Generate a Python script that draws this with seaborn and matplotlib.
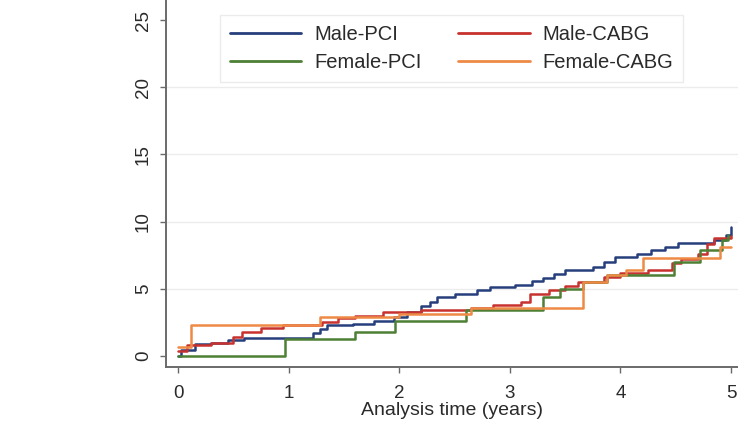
import matplotlib
matplotlib.use("Agg")
import matplotlib.pyplot as plt
import pandas as pd
import seaborn as sns

# Cumulative incidence (%) by group, step points (time in years, value)
male_pci_t = [0, 0.03, 0.15, 0.3, 0.45, 0.6, 1.22, 1.28, 1.35, 1.58, 1.77, 1.95, 2.07, 2.2,
              2.28, 2.34, 2.5, 2.7, 2.82, 3.05, 3.2, 3.3, 3.4, 3.5, 3.75, 3.85, 3.95, 4.15,
              4.28, 4.4, 4.52, 4.85, 4.95, 5.0]
male_pci_v = [0, 0.45, 0.9, 1.0, 1.2, 1.35, 1.7, 2.0, 2.3, 2.4, 2.6, 2.9, 3.3, 3.7,
              4.0, 4.4, 4.6, 4.9, 5.1, 5.3, 5.6, 5.8, 6.1, 6.4, 6.6, 7.0, 7.4, 7.6,
              7.9, 8.1, 8.4, 8.6, 9.0, 9.6]

male_cabg_t = [0, 0.08, 0.3, 0.5, 0.58, 0.75, 0.95, 1.3, 1.45, 1.6, 1.85, 2.2, 2.65, 2.85,
               3.1, 3.18, 3.35, 3.5, 3.62, 3.85, 4.0, 4.25, 4.47, 4.55, 4.7, 4.78, 4.85, 5.0]
male_cabg_v = [0.4, 0.8, 1.0, 1.4, 1.8, 2.1, 2.3, 2.5, 2.8, 3.0, 3.3, 3.4, 3.6, 3.8,
               4.0, 4.6, 4.9, 5.2, 5.5, 5.9, 6.2, 6.4, 6.9, 7.2, 7.6, 8.3, 8.8, 8.9]

female_pci_t = [0, 0.97, 1.6, 1.96, 2.6, 3.3, 3.45, 3.66, 3.88, 4.48, 4.72, 4.92, 4.97]
female_pci_v = [0, 1.3, 1.8, 2.6, 3.4, 4.4, 5.0, 5.5, 6.0, 7.0, 7.9, 8.6, 9.0]

female_cabg_t = [0, 0.12, 1.28, 2.0, 2.65, 3.66, 3.88, 4.05, 4.2, 4.9, 5.0]
female_cabg_v = [0.7, 2.3, 2.9, 3.1, 3.6, 5.5, 6.0, 6.4, 7.3, 8.1, 8.1]

groups = ["Male-PCI", "Male-CABG", "Female-PCI", "Female-CABG"]
colors = ["#263f7c", "#c8322e", "#4d8035", "#ee8a45"]

frames = []
for name, t, v in zip(groups,
                      [male_pci_t, male_cabg_t, female_pci_t, female_cabg_t],
                      [male_pci_v, male_cabg_v, female_pci_v, female_cabg_v]):
    frames.append(pd.DataFrame({"time": t, "value": v, "group": name}))
df = pd.concat(frames, ignore_index=True)

sns.set_theme(style="white")
plt.rcParams["font.family"] = ["Liberation Sans", "DejaVu Sans"]

fig = plt.figure(figsize=(7.38, 4.23), dpi=100)
fig.patch.set_facecolor("white")
ax = fig.add_axes([166 / 738, 56 / 423, 572 / 738, 367 / 423])

sns.lineplot(data=df, x="time", y="value", hue="group", hue_order=groups,
             palette=colors, drawstyle="steps-post", estimator=None,
             linewidth=1.8, ax=ax, legend=False)

ax.set_xlim(-0.1085, 5.063)
ax.set_ylim(-0.82, 26.49)
ax.set_xticks([0, 1, 2, 3, 4, 5])
ax.set_yticks([0, 5, 10, 15, 20, 25])
for yv in [5, 10, 15, 20]:
    ax.axhline(yv, color="#ececec", linewidth=1.0, zorder=0)

for side in ["top", "right"]:
    ax.spines[side].set_visible(False)
for side in ["left", "bottom"]:
    ax.spines[side].set_color("#6a6a6a")
    ax.spines[side].set_linewidth(1.4)

ax.tick_params(axis="both", direction="out", length=4, width=1.0, color="#6a6a6a",
               labelsize=13.5, labelcolor="#2a2a2a", left=True, bottom=True)
ax.tick_params(axis="y", pad=6)
ax.tick_params(axis="x", pad=9)
for lab in ax.get_yticklabels():
    lab.set_rotation(90)
    lab.set_va("center")

ax.set_xlabel("Analysis time (years)", fontsize=14, color="#2a2a2a", labelpad=0)
ax.set_ylabel("")

# legend: two columns, male on the first row, female on the second
handles = [plt.Line2D([], [], color=c, linewidth=2.0) for c in colors]
order = [0, 2, 1, 3]
leg = ax.legend([handles[i] for i in order], [groups[i] for i in order],
                ncol=2, loc="upper left", bbox_to_anchor=(0.094, 0.959),
                fontsize=14.5, frameon=True, fancybox=False,
                handlelength=3.55, handletextpad=0.65, columnspacing=1.8,
                labelspacing=0.45, borderpad=0.5, borderaxespad=0)
leg.get_frame().set_edgecolor("#e6e6e6")
leg.get_frame().set_linewidth(1.0)
for txt in leg.get_texts():
    txt.set_color("#2a2a2a")

fig.savefig("out.png", dpi=100, facecolor="white")
